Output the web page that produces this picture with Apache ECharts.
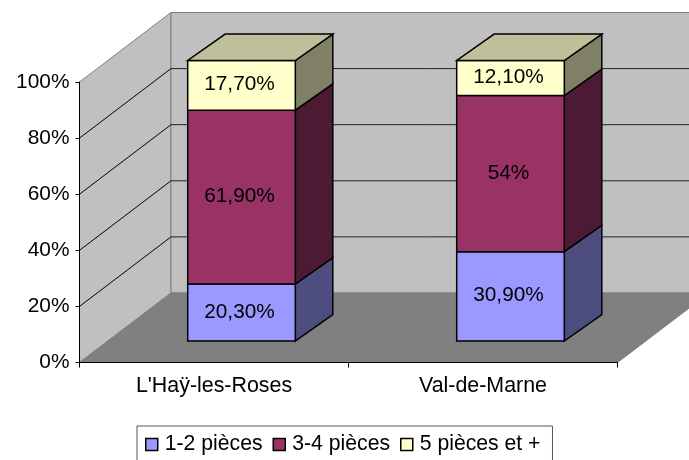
<!DOCTYPE html>
<html><head><meta charset="utf-8">
<script src="https://cdn.jsdelivr.net/npm/echarts@6/dist/echarts.min.js"></script>
<style>html,body{margin:0;padding:0;background:#fff;overflow:hidden}#c{width:689px;height:460px}</style>
</head><body><div id="c"></div>
<script>
const categories = ["L'Haÿ-les-Roses", "Val-de-Marne"];
const seriesNames = ["1-2 pièces", "3-4 pièces", "5 pièces et +"];
const pieces12 = [20.3, 30.9];
const pieces34 = [61.9, 54];
const pieces5 = [17.7, 12.1];
const labels12 = ["20,30%", "30,90%"];
const labels34 = ["61,90%", "54%"];
const labels5 = ["17,70%", "12,10%"];
const yTicks = [0, 20, 40, 60, 80, 100];

const FONT = '"Liberation Sans", Arial, sans-serif';
const WALL = [91.5, -69.5];
const BAR_SHIFT = [27.5, -21.5];
const BAR_DEPTH = [37.5, -26.4];
const faces = [
  {front:'#9999FF', side:'#4D4D80'},
  {front:'#993366', side:'#4D1A33'},
  {front:'#FFFFCC', side:'#808066', top:'#BFBF99'}
];
const allValues = [pieces12, pieces34, pieces5];
const allLabels = [labels12, labels34, labels5];

function poly(points, fill, stroke, lw) {
  return {type:'polygon', shape:{points}, style:{fill, stroke, lineWidth:lw}};
}
function line(a, b, stroke, lw) {
  return {type:'line', shape:{x1:a[0],y1:a[1],x2:b[0],y2:b[1]}, style:{stroke, lineWidth:lw}};
}
function add(p, d) { return [p[0]+d[0], p[1]+d[1]]; }

function renderWalls(params, api) {
  const lo = api.coord([0, 0]);
  const band = api.size([1, 0])[0];
  const x0 = lo[0] - band/2, x1 = lo[0] + band*1.5;
  const fb = [x0, lo[1]], fe = [x1, lo[1]];
  const ft = [x0, api.coord([0, 100])[1]];
  const children = [
    poly([fb, ft, add(ft, WALL), add(fb, WALL)], '#C0C0C0', '#808080', 1),
    poly([add(ft, WALL), [x1+WALL[0], ft[1]+WALL[1]], add(fe, WALL), add(fb, WALL)], '#C0C0C0', '#808080', 1),
    poly([fb, fe, add(fe, WALL), add(fb, WALL)], '#808080', '#808080', 1)
  ];
  yTicks.slice(1, -1).forEach(t => {
    const p = [x0, api.coord([0, t])[1]];
    children.push(line(p, add(p, WALL), '#000', 1));
    children.push(line(add(p, WALL), [x1+WALL[0], p[1]+WALL[1]], '#222', 1));
  });
  return {type:'group', children};
}

function renderBar(s) {
  return function(params, api) {
    const i = api.value(0);
    const vals = allValues.map(a => a[i]);
    const total = vals.reduce((a,b)=>a+b, 0);
    let before = 0;
    for (let k=0;k<s;k++) before += vals[k];
    const from = before/total*100, to = (before+vals[s])/total*100;
    const band = api.size([1,0])[0];
    const half = band*0.2;
    const cx = api.coord([i,0])[0] + BAR_SHIFT[0];
    const yA = api.coord([i,from])[1] + BAR_SHIFT[1];
    const yB = api.coord([i,to])[1] + BAR_SHIFT[1];
    const a=[cx-half,yA], b=[cx+half,yA], c=[cx+half,yB], d=[cx-half,yB];
    const st = faces[s];
    const children = [
      poly([b,c,add(c,BAR_DEPTH),add(b,BAR_DEPTH)], st.side, '#000', 1.5),
      poly([a,b,c,d], st.front, '#000', 1.5)
    ];
    if (st.top) children.push(poly([d,c,add(c,BAR_DEPTH),add(d,BAR_DEPTH)], st.top, '#000', 1.5));
    children.push({type:'text', style:{
      x:cx-2, y:(yA+yB)/2-0.6, text:allLabels[s][i], fill:'#000', font:'20.8px '+FONT,
      align:'center', verticalAlign:'middle'}});
    return {type:'group', children};
  };
}

const chart = echarts.init(document.getElementById('c'), null, {renderer:'canvas'});
chart.setOption({
  animation:false,
  backgroundColor:'#fff',
  grid:{left:79.5, top:82, width:538, height:280.5},
  xAxis:{type:'category', data:categories, z:5,
    axisLine:{lineStyle:{color:'#000',width:1}},
    axisTick:{show:true, alignWithLabel:false, length:5, lineStyle:{color:'#000'}},
    axisLabel:{color:'#000', fontFamily:FONT, fontSize:21.4, margin:13, interval:0},
    splitLine:{show:false}},
  yAxis:{type:'value', min:0, max:100, interval:20, z:5,
    axisLine:{show:true, lineStyle:{color:'#000',width:1}},
    axisTick:{show:true, length:4, lineStyle:{color:'#000'}},
    axisLabel:{color:'#000', fontFamily:FONT, fontSize:20.9, margin:10, formatter:'{value}%'},
    splitLine:{show:false}},
  legend:{left:137, top:426, data:seriesNames, icon:'rect', itemWidth:12, itemHeight:12,
    itemGap:10, padding:[8,12,10,8], borderColor:'#555', borderWidth:1, backgroundColor:'#fff',
    selectedMode:false,
    itemStyle:{borderColor:'#000', borderWidth:1.5},
    textStyle:{color:'#000', fontFamily:FONT, fontSize:21.2, padding:[0,0,0,2]}},
  series:[
    {type:'custom', name:'walls', silent:true, z:1, clip:false, coordinateSystem:'cartesian2d',
      renderItem:renderWalls, data:[[0,0]]},
    ...seriesNames.map((name,s)=>({
      type:'custom', name, z:2+s, clip:false, coordinateSystem:'cartesian2d',
      itemStyle:{color:faces[s].front},
      renderItem:renderBar(s),
      data:categories.map((c,i)=>[i, allValues[s][i]])
    }))
  ]
});
</script></body></html>
